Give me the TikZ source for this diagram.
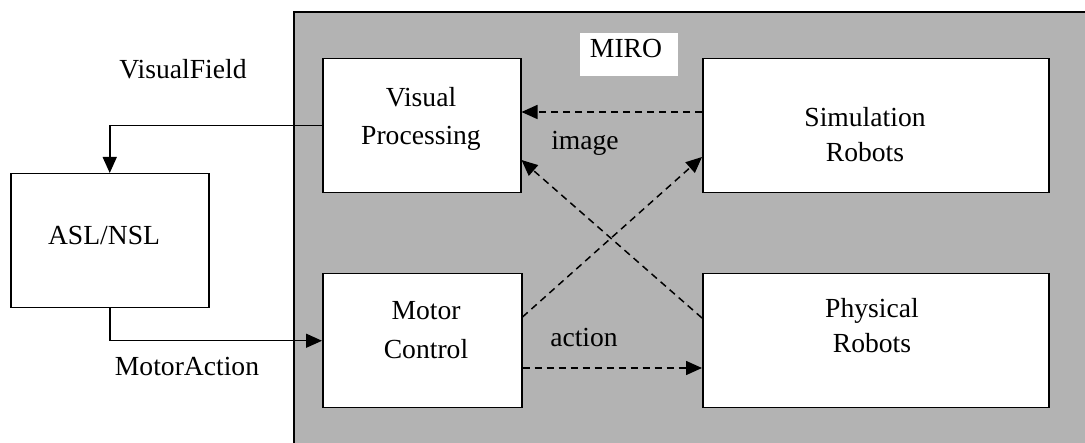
\documentclass[tikz,border=0pt]{standalone}
\usepackage{fontspec}
\setmainfont{Liberation Serif}
\usetikzlibrary{arrows.meta}
\definecolor{mirogray}{RGB}{179,179,179}
\begin{document}
\begin{tikzpicture}[x=1pt,y=-1pt,
  box/.style={draw=black, fill=white, line width=1.5pt, inner sep=0pt, anchor=north west},
  txt/.style={font=\fontsize{27.6}{38}\selectfont, inner sep=0pt, align=center},
  arr/.style={line width=1.5pt, -{Triangle[length=16pt,width=14pt]}},
  darr/.style={arr, dash pattern=on 7pt off 5pt}]
\useasboundingbox (0,0) rectangle (1085,443);
% MIRO gray area
\fill[mirogray] (294,12) rectangle (1085,443);
\draw[line width=1.5pt] (294,443) -- (294,12) -- (1085,12);
% boxes
\node[box, minimum width=98pt, minimum height=43pt, draw=none] (miro) at (579,32) {};
\node[txt, anchor=base] (mirot) at (626,58) {MIRO};
\node[box, minimum width=198pt, minimum height=134pt] (vp) at (322,58) {};
\node[box, minimum width=346pt, minimum height=134pt] (sim) at (702,58) {};
\node[box, minimum width=198pt, minimum height=134pt] (asl) at (10,173) {};
\node[box, minimum width=199pt, minimum height=134pt] (mc) at (322,273) {};
\node[box, minimum width=346pt, minimum height=134pt] (phys) at (702,273) {};
% box texts
\node[txt, anchor=base] (vpt1) at (421,107) {Visual};
\node[txt, anchor=base] (vpt2) at (421,145) {Processing};
\node[txt, anchor=base] (simt1) at (865,127) {Simulation};
\node[txt, anchor=base] (simt2) at (865,162) {Robots};
\node[txt, anchor=base] (aslt) at (104,245) {ASL/NSL};
\node[txt, anchor=base] (mct1) at (426,320) {Motor};
\node[txt, anchor=base] (mct2) at (426,359) {Control};
\node[txt, anchor=base] (phyt1) at (872,318) {Physical};
\node[txt, anchor=base] (phyt2) at (872,353) {Robots};
% connector labels
\node[txt, anchor=base] (vf) at (183,79) {VisualField};
\node[txt, anchor=base] (ma) at (187,376) {MotorAction};
\node[txt, anchor=base] (img) at (585,150) {image};
\node[txt, anchor=base] (act) at (584,347) {action};
% connectors
\draw[arr] (vp.west) -| (asl.north);
\draw[arr] (asl.south) |- (mc.west);
\draw[darr] (sim.west |- 0,112) -- (vp.east |- 0,112);
\draw[darr] (mc.east |- 0,368) -- (phys.west |- 0,368);
\draw[darr] (mc.east |- 0,317) -- (sim.west |- 0,157);
\draw[darr] (phys.west |- 0,318) -- (vp.east |- 0,160);
\end{tikzpicture}
\end{document}
